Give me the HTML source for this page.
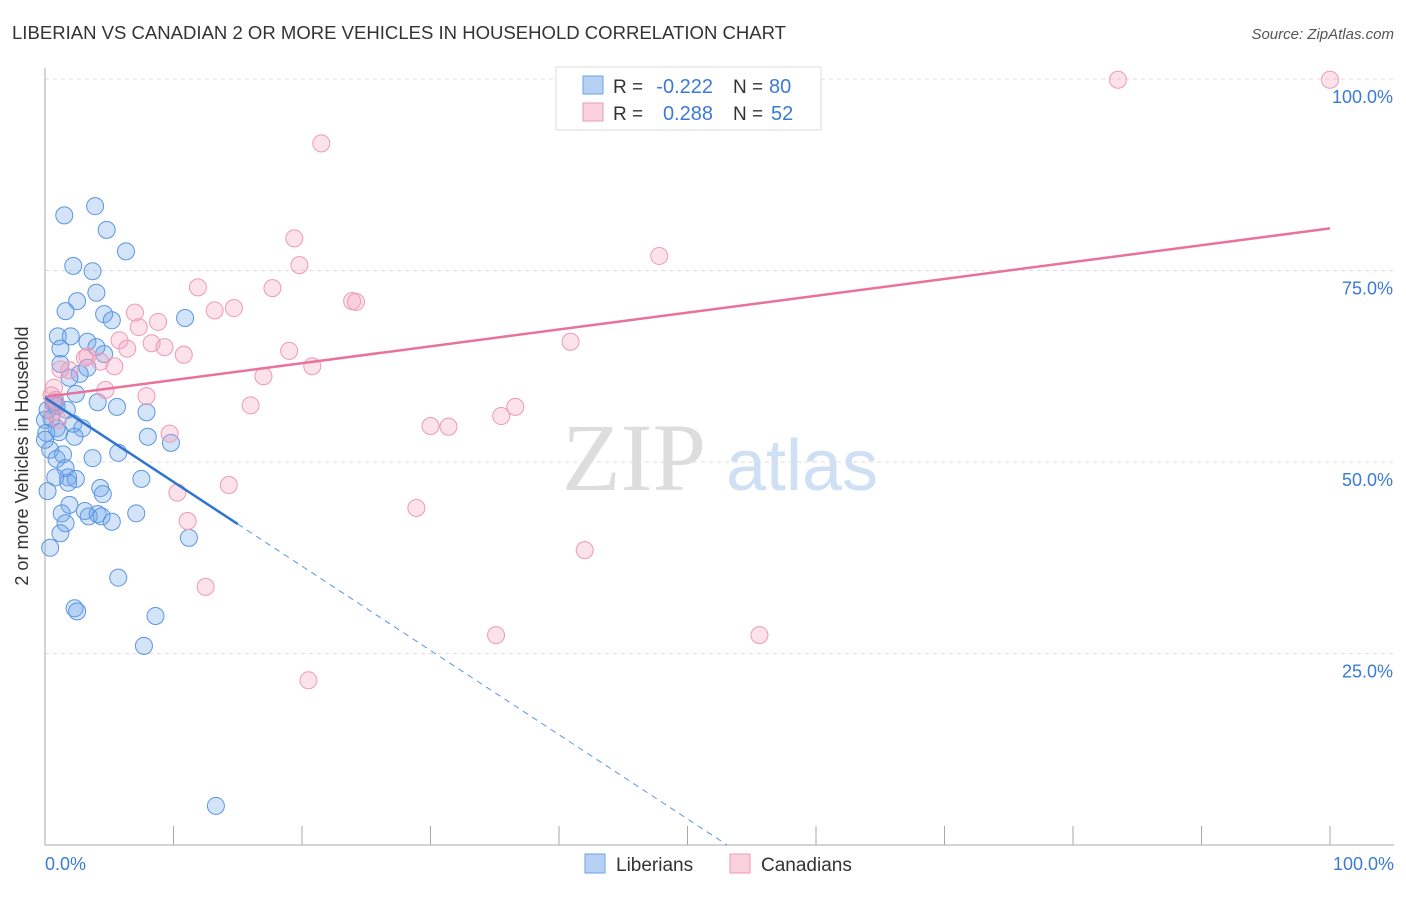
<!DOCTYPE html>
<html><head><meta charset="utf-8"><style>
body{margin:0;background:#fff;font-family:"Liberation Sans",sans-serif;}
svg text{font-family:"Liberation Sans",sans-serif;}
</style></head><body>
<svg id="chart" width="1406" height="892" xmlns="http://www.w3.org/2000/svg">
<text x="12" y="39" font-size="18" fill="#333" textLength="774" lengthAdjust="spacingAndGlyphs">LIBERIAN VS CANADIAN 2 OR MORE VEHICLES IN HOUSEHOLD CORRELATION CHART</text>
<text x="1394" y="39" font-size="15" fill="#555" text-anchor="end" font-style="italic">Source: ZipAtlas.com</text>
<g>
<text x="634" y="490" font-size="96" fill="#ddd" text-anchor="middle" font-family="Liberation Serif" style="font-family:'Liberation Serif',serif">ZIP</text>
<text x="802" y="490" font-size="72" fill="#cfe0f4" text-anchor="middle">atlas</text>
</g>
<g id="grid"></g>
<g id="axes"></g>
<g id="marks"></g>
<g id="trend"></g>
<text x="28" y="456" font-size="18" fill="#333" text-anchor="middle" transform="rotate(-90 28 456)">2 or more Vehicles in Household</text>
<text x="45" y="870" font-size="18" fill="#3a7bd5">0.0%</text>
<text x="1394" y="870" font-size="18" fill="#3a7bd5" text-anchor="end">100.0%</text>
<g>
<rect x="556" y="67" width="265" height="63" fill="#fff" stroke="#ddd"/>
<rect x="583" y="76" width="20" height="18" fill="#b5d0f3" stroke="#6aa3e8"/>
<rect x="583" y="103" width="20" height="18" fill="#fbd0dd" stroke="#ee9ab5"/>
<text x="613" y="93" font-size="19" fill="#333">R =</text>
<text x="713" y="93" font-size="20" fill="#3a7bd5" text-anchor="end">-0.222</text>
<text x="733" y="93" font-size="19" fill="#333">N =</text>
<text x="769" y="93" font-size="20" fill="#3a7bd5">80</text>
<text x="613" y="120" font-size="19" fill="#333">R =</text>
<text x="713" y="120" font-size="20" fill="#3a7bd5" text-anchor="end">0.288</text>
<text x="733" y="120" font-size="19" fill="#333">N =</text>
<text x="771" y="120" font-size="20" fill="#3a7bd5">52</text>
</g>
<g>
<rect x="585" y="854" width="20" height="19" fill="#b5d0f3" stroke="#6aa3e8"/>
<text x="616" y="871" font-size="19" fill="#333">Liberians</text>
<rect x="730" y="854" width="20" height="19" fill="#fbd0dd" stroke="#ee9ab5"/>
<text x="761" y="871" font-size="19" fill="#333">Canadians</text>
</g>
</svg>
<script>
const yTicks=[25,50,75,100];
const yTickLabels=["25.0%","50.0%","75.0%","100.0%"];
const xTicks=[0,10,20,30,40,50,60,70,80,90,100];
const blueX=[1.5,3.9,4.8,6.3,2.2,3.7,4.0,2.5,1.6,4.6,5.2,10.9,1.0,2.0,3.3,4.0,4.6,1.2,1.2,3.3,2.7,1.9,2.4,4.1,5.6,7.9,0.8,0.7,1.7,0.5,0,0.9,2.2,2.9,8.0,0.1,1.1,2.3,9.8,5.7,0.4,1.4,3.7,0.9,1.6,1.8,0.2,2.4,0.8,7.5,1.8,4.3,4.5,1.9,3.1,3.4,4.1,4.4,5.2,7.1,1.3,1.6,11.2,1.2,0.4,5.7,2.3,2.5,8.6,7.7,13.3,0.2,0.9,0];
const blueY=[82.2,83.4,80.3,77.5,75.6,74.9,72.1,71.0,69.7,69.3,68.5,68.8,66.4,66.4,65.7,65.0,64.1,64.8,62.8,62.3,61.5,61.0,58.9,57.8,57.2,56.5,57.8,57.6,56.8,55.7,55.5,54.4,55.0,54.4,53.3,53.8,53.9,53.3,52.5,51.2,51.6,51.0,50.5,50.4,49.2,48.0,46.2,47.8,48.0,47.8,47.3,46.6,45.8,44.4,43.6,42.9,43.2,42.9,42.2,43.3,43.3,42.0,40.1,40.7,38.8,34.9,30.9,30.5,29.9,26.0,5.1,56.8,57.3,52.9];
const pinkX=[83.5,100,21.5,19.4,19.8,47.8,11.9,17.7,13.2,14.7,23.9,24.2,7.0,8.8,7.3,5.8,8.3,9.3,6.4,10.8,19.0,3.3,3.1,4.3,5.4,20.8,1.2,1.9,17.0,0.7,4.7,7.9,16.0,0.6,40.9,36.6,35.5,30.0,31.4,9.7,10.3,14.3,28.9,11.1,42.0,12.5,35.1,55.6,20.5,0.8,0.5,1.0];
const pinkY=[99.9,99.9,91.6,79.2,75.7,76.9,72.8,72.7,69.8,70.1,71.0,70.9,69.5,68.3,67.6,65.9,65.5,65.0,64.8,64.0,64.5,63.8,63.6,63.1,62.5,62.5,62.1,62.0,61.2,59.7,59.4,58.6,57.4,56.5,65.7,57.2,56.0,54.7,54.6,53.7,46.0,47.0,44.0,42.3,38.5,33.7,27.4,27.4,21.5,58.1,58.7,55.5];
const blueTrend=[58.4,-1.1];   // intercept, slope
const pinkTrend=[58.5,0.22];
const NS="http://www.w3.org/2000/svg";
const sx=v=>45+v*12.85, sy=v=>845-v*7.66;
function mk(tag,attrs,parent){const e=document.createElementNS(NS,tag);for(const k in attrs)e.setAttribute(k,attrs[k]);document.getElementById(parent).appendChild(e);return e;}
yTicks.forEach((t,i)=>{
 const g=mk('line',{x1:45,x2:1394,y1:sy(t),y2:sy(t),stroke:'#ddd','stroke-dasharray':'4,4'},'grid');
 
 
 const l=mk('text',{x:1393,y:sy(t)+24,'font-size':18,fill:'#3a7bd5','text-anchor':'end'},'grid');
 l.textContent=yTickLabels[i];
 
 
});
const ax=mk('line',{x1:45,x2:45,y1:68,y2:845,stroke:'#aaa'},'axes');


const bx=mk('line',{x1:45,x2:1394,y1:845,y2:845,stroke:'#aaa'},'axes');


xTicks.forEach(t=>{
 const e=mk('line',{x1:sx(t),x2:sx(t),y1:826,y2:845,stroke:'#aaa'},'axes');
 
 
});
blueX.forEach((x,i)=>{
 const c=mk('circle',{cx:sx(x),cy:sy(blueY[i]),r:8.5,fill:'rgba(110,165,235,0.3)',stroke:'#5b96e0','stroke-width':1},'marks');
 
 
});
pinkX.forEach((x,i)=>{
 const c=mk('circle',{cx:sx(x),cy:sy(pinkY[i]),r:8.5,fill:'rgba(245,160,190,0.3)',stroke:'#ee9ab5','stroke-width':1},'marks');
 
 
});
const pt=mk('line',{x1:sx(0),y1:sy(pinkTrend[0]),x2:sx(100),y2:sy(pinkTrend[0]+100*pinkTrend[1]),stroke:'#e8729a','stroke-width':2.5},'trend');


const bt=mk('line',{x1:sx(0),y1:sy(blueTrend[0]),x2:sx(15),y2:sy(blueTrend[0]+15*blueTrend[1]),stroke:'#2f74d0','stroke-width':2.5},'trend');


const xEnd=-blueTrend[0]/blueTrend[1];
const bd=mk('line',{x1:sx(15),y1:sy(blueTrend[0]+15*blueTrend[1]),x2:sx(xEnd),y2:sy(0),stroke:'#5b96e0','stroke-width':1,'stroke-dasharray':'6,5'},'trend');


</script>
</body></html>
